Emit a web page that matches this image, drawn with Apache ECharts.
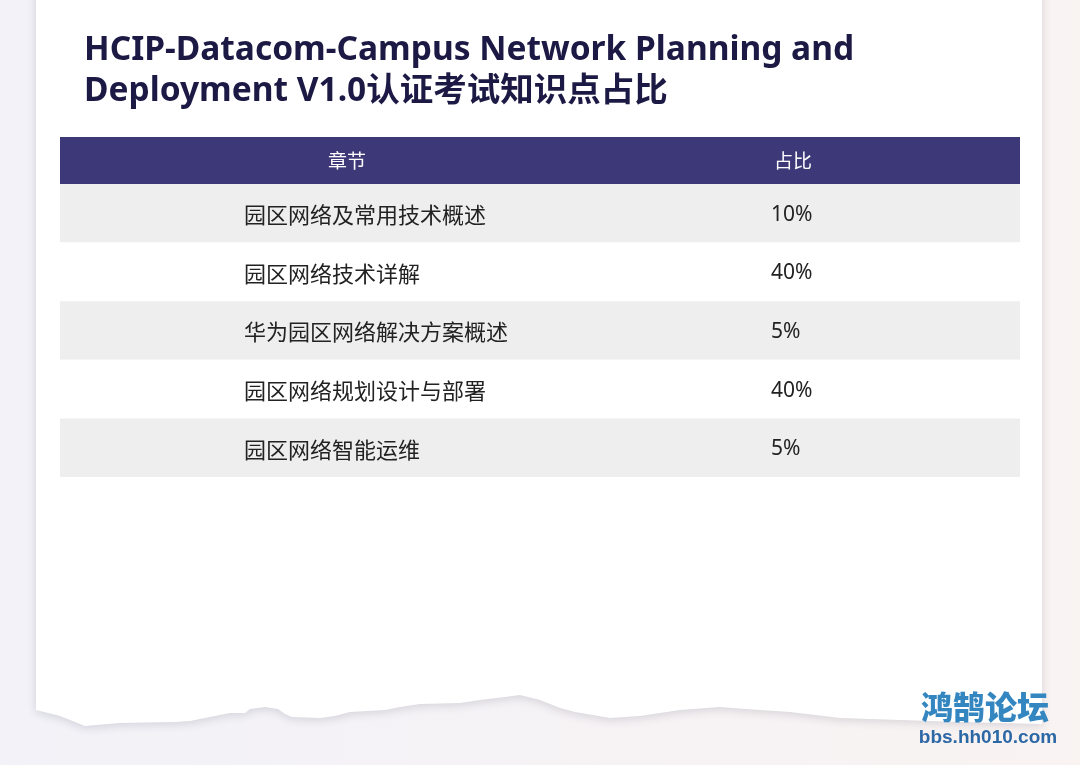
<!DOCTYPE html>
<html>
<head>
<meta charset="utf-8">
<script src="https://cdn.jsdelivr.net/npm/echarts@6/dist/echarts.min.js"></script>
<style>
html,body{margin:0;padding:0;width:1080px;height:765px;overflow:hidden;}
#main{width:1080px;height:765px;}
</style>
</head>
<body>
<div id="main"></div>
<script>
// ---- data ----
const titleLines = ['HCIP-Datacom-Campus Network Planning and', 'Deployment V1.0认证考试知识点占比'];
const headers = ['章节', '占比'];
const chapters = ['园区网络及常用技术概述', '园区网络技术详解', '华为园区网络解决方案概述', '园区网络规划设计与部署', '园区网络智能运维'];
const shares = [10, 40, 5, 40, 5];
const watermarkName = '鸿鹄论坛';
const watermarkUrl = 'bbs.hh010.com';

// ---- layout ----
const TL = 60, TW = 960, HEAD_TOP = 137, HEAD_H = 47, ROW_H = 58.6;
const COL1_X = 184;   // offset of column-1 text from table left (axis units = px)
const COL2_X = 711;   // offset of column-2 text
const CJK = "'Noto Sans CJK SC', 'Noto Sans', sans-serif";
const LAT = "'Noto Sans', 'Noto Sans CJK SC', sans-serif";

const tornEdge = [
  [1042,724],[960,722],[900,720],[840,718],[790,712],[745,709],[720,707],[680,710],[640,716],
  [610,718],[575,712],[560,708],[540,700],[520,695],[505,697],[480,700],[460,703],[420,704],
  [400,707],[385,710],[350,712],[335,716],[320,718],[292,717],[285,714],[278,709],[265,707],[250,709],
  [245,713],[230,713],[205,718],[190,721],[175,722],[120,723],[85,726],[60,716],[36,710]
];

const chart = echarts.init(document.getElementById('main'), null, {renderer: 'canvas'});

const option = {
  animation: false,
  backgroundColor: {
    type: 'linear', x: 0, y: 0, x2: 1, y2: 0,
    colorStops: [{offset: 0, color: '#f2f2f8'}, {offset: 1, color: '#f9f3f2'}]
  },
  graphic: [
    {
      type: 'polygon', z: -10,
      shape: {points: [[36,-30],[1042,-30]].concat(tornEdge)},
      style: {fill: '#ffffff', shadowBlur: 10, shadowColor: 'rgba(40,40,70,0.16)', shadowOffsetY: 2}
    },
    {
      type: 'rect', z: 5,
      shape: {x: TL, y: HEAD_TOP, width: TW, height: HEAD_H},
      style: {fill: '#3d3878'}
    },
    {
      type: 'text', z: 6, x: 347, y: HEAD_TOP + HEAD_H / 2,
      style: {text: headers[0], fill: '#ffffff', font: '19px ' + CJK, align: 'center', verticalAlign: 'middle'}
    },
    {
      type: 'text', z: 6, x: 793, y: HEAD_TOP + HEAD_H / 2,
      style: {text: headers[1], fill: '#ffffff', font: '19px ' + CJK, align: 'center', verticalAlign: 'middle'}
    },
    {
      type: 'text', z: 6, x: 84, y: 30,
      style: {text: titleLines.join('\n'), fill: '#1c1a45', font: 'bold 33.5px ' + LAT, lineHeight: 41}
    },
    {
      type: 'text', z: 20, x: 985, y: 707,
      style: {text: watermarkName, font: '900 32px ' + CJK, align: 'center', verticalAlign: 'middle', fill: '#3386c0'}
    },
    {
      type: 'text', z: 20, x: 988, y: 738,
      style: {text: watermarkUrl, font: "bold 19px 'Liberation Sans', Arial, sans-serif", fill: '#2d68a6', align: 'center', verticalAlign: 'middle'}
    }
  ],
  grid: {left: TL, top: HEAD_TOP + HEAD_H, width: TW, height: ROW_H * chapters.length, show: false},
  xAxis: {type: 'value', min: 0, max: TW, show: false},
  yAxis: {type: 'category', data: chapters, inverse: true, show: false},
  series: [{
    type: 'custom',
    data: chapters.map((c, i) => [i, shares[i]]),
    encode: {y: 0},
    renderItem: function (params, api) {
      const idx = api.value(0);
      const center = api.coord([0, idx]);
      const band = api.size([0, 1])[1];
      const cs = params.coordSys;
      const x1 = api.coord([COL1_X, idx])[0];
      const x2 = api.coord([COL2_X, idx])[0];
      return {
        type: 'group',
        children: [
          {type: 'rect', shape: {x: cs.x, y: center[1] - band / 2, width: cs.width, height: band},
           style: {fill: idx % 2 === 0 ? '#eeeeee' : '#ffffff'}},
          {type: 'text', x: x1, y: center[1] + 1.5,
           style: {text: chapters[idx], fill: '#222222', font: '22px ' + CJK, verticalAlign: 'middle', align: 'left'}},
          {type: 'text', x: x2, y: center[1] + 1.5,
           style: {text: api.value(1) + '%', fill: '#222222', font: '21px ' + LAT, verticalAlign: 'middle', align: 'left'}}
        ]
      };
    }
  }]
};
chart.setOption(option);
</script>
</body>
</html>
